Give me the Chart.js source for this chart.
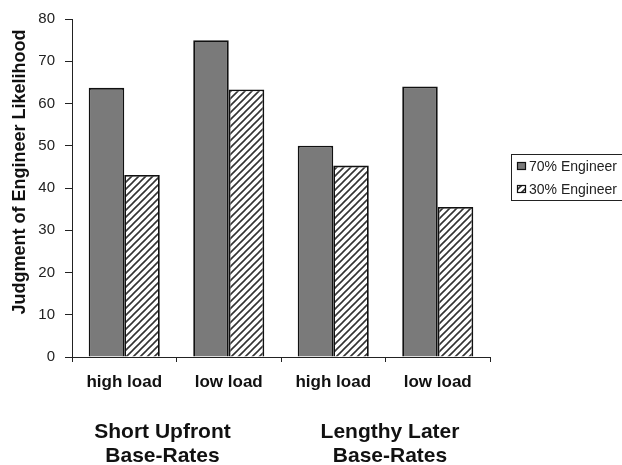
<!DOCTYPE html>
<html>
<head>
<meta charset="utf-8">
<script src="https://cdn.jsdelivr.net/npm/chart.js@4/dist/chart.umd.min.js"></script>
<style>
    html, body { margin: 0; padding: 0; background: #fff; }
    #chart { display: block; }
</style>
</head>
<body>
<canvas id="chart" width="622" height="465"></canvas>
<script>
const categories = ["high load", "low load", "high load", "low load"];
const seriesLabels = ["70% Engineer", "30% Engineer"];
const engineer70 = [63.7, 75, 50, 64];
const engineer30 = [43.1, 63.3, 45.3, 35.5];
const groupLabels = [["Short Upfront", "Base-Rates"], ["Lengthy Later", "Base-Rates"]];
const yTitle = "Judgment of Engineer Likelihood";
const yMin = 0;
const yMax = 80;
const yStep = 10;

const FONT = "Arial, 'Liberation Sans', Helvetica, sans-serif";

// diagonal hatch for the 30% bars
function makeHatch() {
    const size = 7;
    const c = document.createElement("canvas");
    c.width = size;
    c.height = size;
    const g = c.getContext("2d");
    g.fillStyle = "#fff";
    g.fillRect(0, 0, size, size);
    g.strokeStyle = "#333";
    g.lineWidth = 1.6;
    g.beginPath();
    g.moveTo(-1, size + 1);
    g.lineTo(size + 1, -1);
    g.moveTo(-1, 1);
    g.lineTo(1, -1);
    g.moveTo(size - 1, size + 1);
    g.lineTo(size + 1, size - 1);
    g.stroke();
    return g.createPattern(c, "repeat");
}

const ctx = document.getElementById("chart").getContext("2d");
const hatch = makeHatch();
const darkGray = "#7a7a7a";

// titles, group labels and boxed legend
const extraText = {
    id: "extraText",
    afterDraw(chart) {
        const c = chart.ctx;
        const area = chart.chartArea;
        c.save();

        // y axis title
        c.fillStyle = "#111";
        c.font = "bold 18px " + FONT;
        c.textAlign = "center";
        c.textBaseline = "middle";
        c.translate(20, 172);
        c.rotate(-Math.PI / 2);
        c.fillText(yTitle, 0, 0);
        c.setTransform(1, 0, 0, 1, 0, 0);

        // group labels under the categories
        c.font = "bold 21px " + FONT;
        const groupX = [area.left + 90.5, area.left + 318];
        groupLabels.forEach((lines, i) => {
            lines.forEach((line, j) => {
                c.fillText(line, groupX[i], 432 + j * 24);
            });
        });

        // legend
        c.strokeStyle = "#222";
        c.lineWidth = 1;
        c.strokeRect(511.5, 154.5, 130, 46);
        c.font = "14px " + FONT;
        c.textAlign = "left";
        const fills = [darkGray, hatch];
        seriesLabels.forEach((label, i) => {
            const y = 166 + i * 23;
            c.fillStyle = fills[i];
            c.fillRect(517, y - 4, 9, 8);
            c.strokeStyle = "#111";
            c.lineWidth = 1.2;
            c.strokeRect(517.5, y - 3.5, 8, 7);
            c.fillStyle = "#222";
            c.fillText(label, 529, y + 1);
        });
        c.restore();
    },
};

new Chart(ctx, {
    type: "bar",
    data: {
        labels: categories,
        datasets: [
            {
                label: seriesLabels[0],
                data: engineer70,
                backgroundColor: darkGray,
                borderColor: "#111",
                borderWidth: 1.8,
            },
            {
                label: seriesLabels[1],
                data: engineer30,
                backgroundColor: hatch,
                borderColor: "#111",
                borderWidth: 1.8,
            },
        ],
    },
    options: {
        responsive: false,
        animation: false,
        devicePixelRatio: 1,
        layout: {
            padding: { top: 15, right: 132, left: 0, bottom: 0 },
        },
        datasets: {
            bar: {
                categoryPercentage: 0.68,
                barPercentage: 1,
            },
        },
        plugins: {
            legend: { display: false },
            tooltip: { enabled: false },
        },
        scales: {
            x: {
                afterFit: (scale) => { scale.height = 108; },
                border: { color: "#222", width: 1 },
                grid: {
                    offset: true,
                    drawOnChartArea: false,
                    tickLength: 5,
                    color: "#222",
                },
                ticks: {
                    color: "#111",
                    padding: 10,
                    font: { family: FONT, size: 17, weight: "bold" },
                },
            },
            y: {
                min: yMin,
                max: yMax,
                afterFit: (scale) => { scale.width = 72; },
                border: { color: "#222", width: 1 },
                grid: {
                    drawOnChartArea: false,
                    tickLength: 7,
                    color: "#222",
                },
                ticks: {
                    stepSize: yStep,
                    color: "#222",
                    padding: 10,
                    font: { family: FONT, size: 15 },
                },
            },
        },
    },
    plugins: [extraText],
});
</script>
</body>
</html>
